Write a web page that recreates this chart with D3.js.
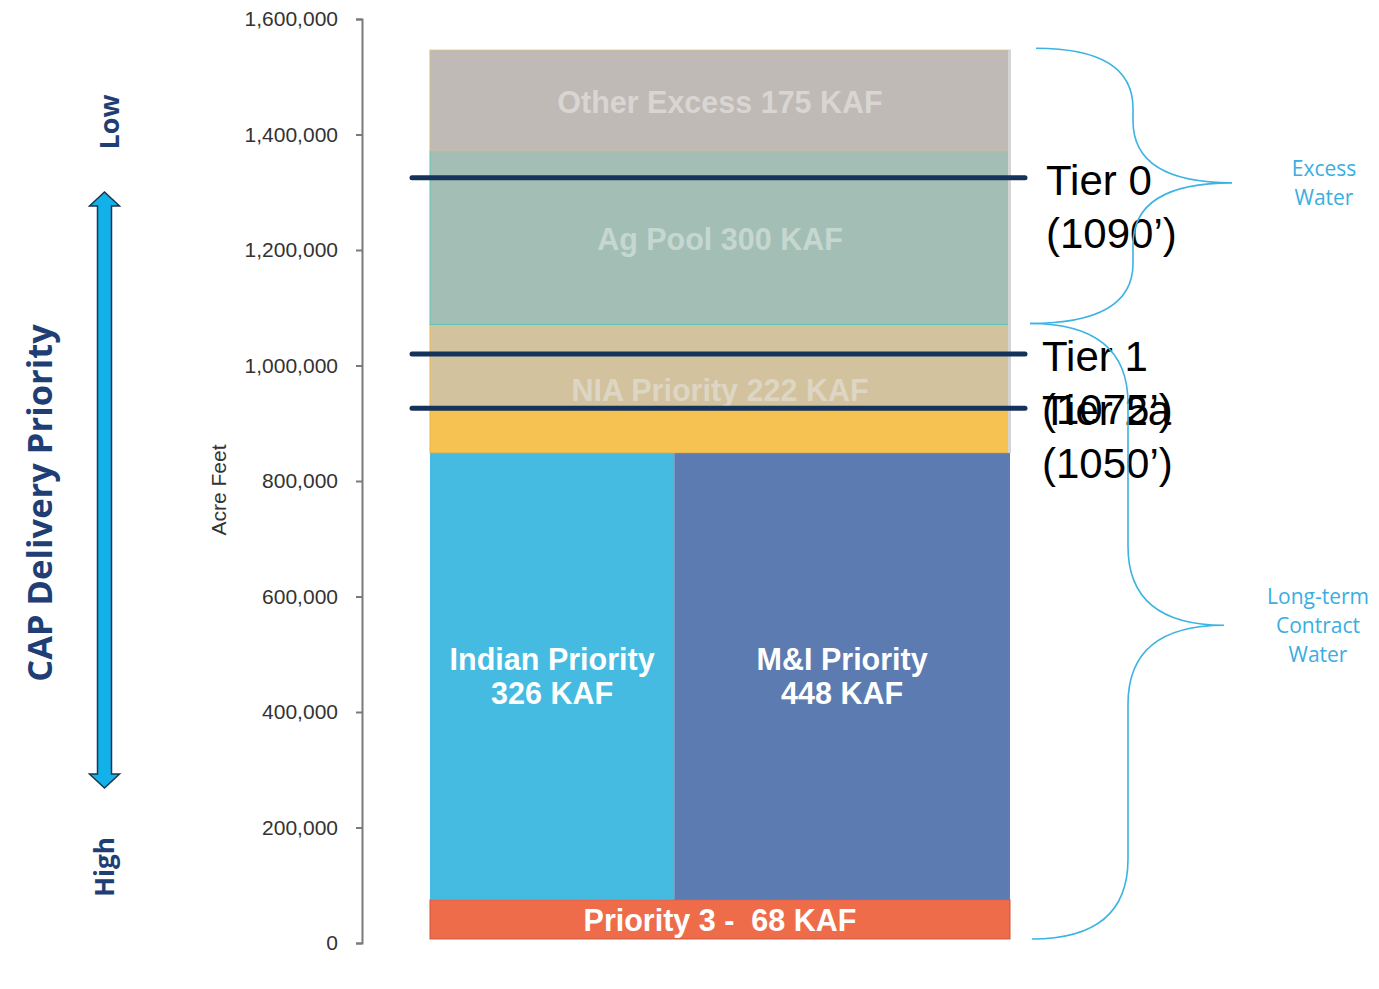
<!DOCTYPE html>
<html>
<head>
<meta charset="utf-8">
<script src="https://cdn.jsdelivr.net/npm/d3@7"></script>
<style>
  html, body { margin: 0; padding: 0; background: #ffffff; }
  svg { display: block; }
  text { white-space: pre; }
</style>
</head>
<body>
<svg id="chart" width="1379" height="989"></svg>
<script>
// ---------------- DATA ----------------
const yTickValues = [0, 200000, 400000, 600000, 800000, 1000000, 1200000, 1400000, 1600000];
const baseKAF = 7;                       // stack starts slightly above 0 in the source
const priority3Name = "Priority 3 -  68 KAF";
const priority3KAF = 68;
const sharedNames = ["Indian Priority", "M&I Priority"];
const sharedKAF = [326, 448];
const upperNames = ["NIA Priority", "Ag Pool", "Other Excess"];
const upperKAF = [222, 300, 175];
const tierNames = ["Tier 0", "Tier 1", "Tier 2a"];
const tierElevations = ["(1090’)", "(1075’)", "(1050’)"];
const tierKAF = [1325, 1020, 926];
const braceNames = [["Excess", "Water"], ["Long-term", "Contract", "Water"]];

// ---------------- STYLE ----------------
const sharedColors = ["#45bbe2", "#5c7bb0"];
const upperColors = ["#f6c352", "#a3bfb5", "#bfbab6"];
const upperStroke = ["#e8b445", "#5ec4b3", "#c9bb8c"];
const upperLabelColors = ["#ded6c4", "#c5d7d0", "#d8d5d2"];
const niaTopColor = "#d3c29e";
const p3Color = "#ef6c4a";
const navy = "#1e3e74";
const braceColor = "#3bb3e3";

const svg = d3.select("#chart");
svg.append("rect").attr("width", 1379).attr("height", 989).attr("fill", "#fff");

const y = d3.scaleLinear().domain([0, 1600000]).range([943, 19]);
const yK = v => y(v * 1000);
const xBar = d3.scaleLinear().domain([0, d3.sum(sharedKAF)]).range([430, 1010]);

// ---------------- AXIS ----------------
const axis = d3.axisLeft(y)
  .tickValues(yTickValues)
  .tickFormat(d3.format(","))
  .tickSize(6)
  .tickPadding(18);
const gAxis = svg.append("g").attr("transform", "translate(362,0)").call(axis);
gAxis.selectAll("path, line").attr("stroke", "#7a7a7a").attr("stroke-width", 2);
gAxis.selectAll("text")
  .attr("fill", "#333")
  .style("font-family", "'Liberation Sans', Arial, sans-serif")
  .style("font-size", "21px");

svg.append("text")
  .attr("transform", "translate(226,490) rotate(-90)")
  .attr("text-anchor", "middle")
  .attr("fill", "#333")
  .style("font-family", "'Liberation Sans', Arial, sans-serif")
  .style("font-size", "21px")
  .text("Acre Feet");

// ---------------- BARS ----------------
const barFont = "'Liberation Sans', Arial, sans-serif";
const barFontSize = "30.5px";
const x0 = xBar.range()[0], x1 = xBar.range()[1];

// Priority 3
const p3Top = baseKAF + priority3KAF;
svg.append("rect")
  .attr("x", x0).attr("width", x1 - x0)
  .attr("y", yK(p3Top)).attr("height", yK(baseKAF) - yK(p3Top))
  .attr("fill", p3Color).attr("stroke", "#c9573c").attr("stroke-width", 1);
svg.append("text")
  .attr("x", (x0 + x1) / 2).attr("y", (yK(p3Top) + yK(baseKAF)) / 2 + 1)
  .attr("dy", "0.36em").attr("text-anchor", "middle")
  .attr("fill", "#fff").style("font-family", barFont).style("font-weight", "bold").style("font-size", barFontSize)
  .text(priority3Name);

// Indian / M&I side by side (width proportional to value, height = sum)
const sharedTop = p3Top + d3.sum(sharedKAF);
let cum = 0;
sharedKAF.forEach((v, i) => {
  const xa = xBar(cum), xb = xBar(cum + v);
  cum += v;
  svg.append("rect")
    .attr("x", xa).attr("width", xb - xa)
    .attr("y", yK(sharedTop)).attr("height", yK(p3Top) - yK(sharedTop))
    .attr("fill", sharedColors[i]);
  const cy = (yK(sharedTop) + yK(p3Top)) / 2;
  const t = svg.append("text")
    .attr("x", (xa + xb) / 2).attr("text-anchor", "middle")
    .attr("fill", "#fff").style("font-family", barFont).style("font-weight", "bold").style("font-size", barFontSize);
  t.append("tspan").attr("x", (xa + xb) / 2).attr("y", cy - 17).attr("dy", "0.36em").text(sharedNames[i]);
  t.append("tspan").attr("x", (xa + xb) / 2).attr("y", cy + 17).attr("dy", "0.36em").text(v + " KAF");
});

// Upper layers
let level = sharedTop;
upperKAF.forEach((v, i) => {
  const lo = level, hi = level + v;
  level = hi;
  svg.append("rect")
    .attr("x", x0).attr("width", x1 - x0)
    .attr("y", yK(hi)).attr("height", yK(lo) - yK(hi))
    .attr("fill", upperColors[i]).attr("stroke", upperStroke[i]).attr("stroke-width", 1);
  if (i === 0) {
    // tan part of NIA above the Tier 2a level
    svg.append("rect")
      .attr("x", x0 + 0.5).attr("width", x1 - x0 - 1)
      .attr("y", yK(hi)).attr("height", yK(tierKAF[2]) - yK(hi))
      .attr("fill", niaTopColor);
  }
  svg.append("text")
    .attr("x", (x0 + x1) / 2).attr("y", (yK(lo) + yK(hi)) / 2 + 1)
    .attr("dy", "0.36em").attr("text-anchor", "middle")
    .attr("fill", upperLabelColors[i]).style("font-family", barFont).style("font-weight", "bold").style("font-size", barFontSize)
    .text(upperNames[i] + " " + v + " KAF");
});
// light grey right edge strip on the upper layers
svg.append("rect")
  .attr("x", x1 - 2).attr("width", 3)
  .attr("y", yK(level)).attr("height", yK(sharedTop) - yK(level))
  .attr("fill", "#d4d4d4");

// ---------------- TIER LINES ----------------
tierKAF.forEach((v, i) => {
  const yy = yK(v);
  svg.append("line")
    .attr("x1", x0 - 18).attr("x2", x1 + 15)
    .attr("y1", yy).attr("y2", yy)
    .attr("stroke", "#15325a").attr("stroke-width", 5).attr("stroke-linecap", "round");
  const t = svg.append("text")
    .attr("fill", "#000").style("font-family", "'Liberation Sans', Arial, sans-serif").style("font-size", "42px");
  const tx = i === 0 ? x1 + 36 : x1 + 32;
  t.append("tspan").attr("x", tx).attr("y", yy + 17).text(tierNames[i]);
  t.append("tspan").attr("x", tx).attr("y", yy + 70).text(tierElevations[i]);
});

// ---------------- BRACES ----------------
function bracePath(xTop, xBot, y1, y2, xm, xt, ym, r1, r2) {
  return `M${xTop},${y1} Q${xm},${y1} ${xm},${y1 + r1} L${xm},${ym - r2} Q${xm},${ym} ${xt},${ym}` +
         ` Q${xm},${ym} ${xm},${ym + r2} L${xm},${y2 - r1} Q${xm},${y2} ${xBot},${y2}`;
}
const excessTop = yK(level) - 2, excessBot = yK(sharedTop + upperKAF[0]) - 1;
const excessMid = (excessTop + excessBot) / 2 - 3;
svg.append("path")
  .attr("d", bracePath(1036, 1030, excessTop, excessBot, 1133, 1232, excessMid, 60, 62))
  .attr("fill", "none").attr("stroke", braceColor).attr("stroke-width", 1.6);
const ltTop = excessBot, ltBot = yK(baseKAF);
const ltMid = (ltTop + ltBot) / 2 - 6;
svg.append("path")
  .attr("d", bracePath(1030, 1032, ltTop, ltBot, 1128, 1224, ltMid, 80, 79))
  .attr("fill", "none").attr("stroke", braceColor).attr("stroke-width", 1.6);

const braceFont = "'Open Sans', 'Noto Sans', sans-serif";
[[1324, excessMid - 14], [1318, ltMid - 29]].forEach((p, i) => {
  const t = svg.append("text").attr("text-anchor", "middle").attr("fill", "#3aaee0")
    .style("font-family", braceFont).style("font-size", "21px");
  braceNames[i].forEach((s, j) => {
    t.append("tspan").attr("x", p[0]).attr("y", p[1] + j * 29).attr("dy", "0.36em").text(s);
  });
});

// ---------------- LEFT PRIORITY ARROW ----------------
const leftFont = "'Open Sans', 'Noto Sans', sans-serif";
svg.append("text")
  .attr("transform", "translate(52,503) rotate(-90)")
  .attr("text-anchor", "middle").attr("fill", navy)
  .style("font-family", leftFont).style("font-weight", "bold").style("font-size", "34.5px")
  .text("CAP Delivery Priority");
svg.append("text")
  .attr("transform", "translate(119,122) rotate(-90)")
  .attr("text-anchor", "middle").attr("fill", navy)
  .style("font-family", leftFont).style("font-weight", "bold").style("font-size", "27px")
  .text("Low");
svg.append("text")
  .attr("transform", "translate(114,867) rotate(-90)")
  .attr("text-anchor", "middle").attr("fill", navy)
  .style("font-family", leftFont).style("font-weight", "bold").style("font-size", "26px")
  .text("High");

const ax = 104.5, aTop = 192, aBot = 788, sw = 7, hw = 15, hl = 14;
svg.append("path")
  .attr("d", `M${ax},${aTop} L${ax + hw},${aTop + hl} L${ax + sw},${aTop + hl} L${ax + sw},${aBot - hl} L${ax + hw},${aBot - hl}` +
             ` L${ax},${aBot} L${ax - hw},${aBot - hl} L${ax - sw},${aBot - hl} L${ax - sw},${aTop + hl} L${ax - hw},${aTop + hl} Z`)
  .attr("fill", "#12b1e9").attr("stroke", "#1d3550").attr("stroke-width", 1.5).attr("stroke-linejoin", "miter");
</script>
</body>
</html>
